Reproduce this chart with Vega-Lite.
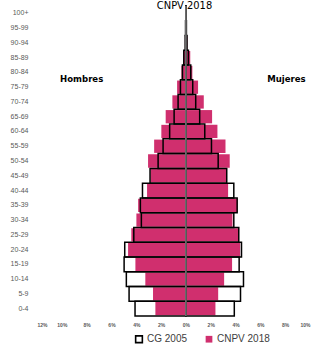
{
  "$schema": "https://vega.github.io/schema/vega-lite/v6.json",
  "width": 273,
  "height": 310,
  "autosize": "none",
  "padding": {"left": 37, "top": 6, "right": 5, "bottom": 34},
  "background": "white",
  "config": {"view": {"stroke": null}, "font": "Liberation Sans"},
  "title": {
    "text": "CNPV 2018",
    "font": "DejaVu Sans Condensed",
    "fontSize": 11,
    "fontWeight": "normal",
    "color": "#000000",
    "anchor": "middle",
    "dx": 11,
    "offset": -6
  },
  "datasets": {
    "pop": [
      {"age": "100+", "year": "CG 2005", "sex": "Hombres", "value": -0.01},
      {"age": "100+", "year": "CG 2005", "sex": "Mujeres", "value": 0.02},
      {"age": "100+", "year": "CNPV 2018", "sex": "Hombres", "value": -0.01},
      {"age": "100+", "year": "CNPV 2018", "sex": "Mujeres", "value": 0.02},
      {"age": "95-99", "year": "CG 2005", "sex": "Hombres", "value": -0.03},
      {"age": "95-99", "year": "CG 2005", "sex": "Mujeres", "value": 0.04},
      {"age": "95-99", "year": "CNPV 2018", "sex": "Hombres", "value": -0.03},
      {"age": "95-99", "year": "CNPV 2018", "sex": "Mujeres", "value": 0.05},
      {"age": "90-94", "year": "CG 2005", "sex": "Hombres", "value": -0.06},
      {"age": "90-94", "year": "CG 2005", "sex": "Mujeres", "value": 0.09},
      {"age": "90-94", "year": "CNPV 2018", "sex": "Hombres", "value": -0.08},
      {"age": "90-94", "year": "CNPV 2018", "sex": "Mujeres", "value": 0.12},
      {"age": "85-89", "year": "CG 2005", "sex": "Hombres", "value": -0.17},
      {"age": "85-89", "year": "CG 2005", "sex": "Mujeres", "value": 0.2},
      {"age": "85-89", "year": "CNPV 2018", "sex": "Hombres", "value": -0.2},
      {"age": "85-89", "year": "CNPV 2018", "sex": "Mujeres", "value": 0.35},
      {"age": "80-84", "year": "CG 2005", "sex": "Hombres", "value": -0.28},
      {"age": "80-84", "year": "CG 2005", "sex": "Mujeres", "value": 0.39},
      {"age": "80-84", "year": "CNPV 2018", "sex": "Hombres", "value": -0.36},
      {"age": "80-84", "year": "CNPV 2018", "sex": "Mujeres", "value": 0.52},
      {"age": "75-79", "year": "CG 2005", "sex": "Hombres", "value": -0.44},
      {"age": "75-79", "year": "CG 2005", "sex": "Mujeres", "value": 0.55},
      {"age": "75-79", "year": "CNPV 2018", "sex": "Hombres", "value": -0.71},
      {"age": "75-79", "year": "CNPV 2018", "sex": "Mujeres", "value": 0.98},
      {"age": "70-74", "year": "CG 2005", "sex": "Hombres", "value": -0.63},
      {"age": "70-74", "year": "CG 2005", "sex": "Mujeres", "value": 0.79},
      {"age": "70-74", "year": "CNPV 2018", "sex": "Hombres", "value": -1.09},
      {"age": "70-74", "year": "CNPV 2018", "sex": "Mujeres", "value": 1.44},
      {"age": "65-69", "year": "CG 2005", "sex": "Hombres", "value": -0.95},
      {"age": "65-69", "year": "CG 2005", "sex": "Mujeres", "value": 1.11},
      {"age": "65-69", "year": "CNPV 2018", "sex": "Hombres", "value": -1.63},
      {"age": "65-69", "year": "CNPV 2018", "sex": "Mujeres", "value": 2.11},
      {"age": "60-64", "year": "CG 2005", "sex": "Hombres", "value": -1.31},
      {"age": "60-64", "year": "CG 2005", "sex": "Mujeres", "value": 1.52},
      {"age": "60-64", "year": "CNPV 2018", "sex": "Hombres", "value": -1.98},
      {"age": "60-64", "year": "CNPV 2018", "sex": "Mujeres", "value": 2.54},
      {"age": "55-59", "year": "CG 2005", "sex": "Hombres", "value": -1.84},
      {"age": "55-59", "year": "CG 2005", "sex": "Mujeres", "value": 2.06},
      {"age": "55-59", "year": "CNPV 2018", "sex": "Hombres", "value": -2.56},
      {"age": "55-59", "year": "CNPV 2018", "sex": "Mujeres", "value": 3.19},
      {"age": "50-54", "year": "CG 2005", "sex": "Hombres", "value": -2.24},
      {"age": "50-54", "year": "CG 2005", "sex": "Mujeres", "value": 2.6},
      {"age": "50-54", "year": "CNPV 2018", "sex": "Hombres", "value": -3.05},
      {"age": "50-54", "year": "CNPV 2018", "sex": "Mujeres", "value": 3.53},
      {"age": "45-49", "year": "CG 2005", "sex": "Hombres", "value": -2.89},
      {"age": "45-49", "year": "CG 2005", "sex": "Mujeres", "value": 3.29},
      {"age": "45-49", "year": "CNPV 2018", "sex": "Hombres", "value": -2.85},
      {"age": "45-49", "year": "CNPV 2018", "sex": "Mujeres", "value": 3.25},
      {"age": "40-44", "year": "CG 2005", "sex": "Hombres", "value": -3.5},
      {"age": "40-44", "year": "CG 2005", "sex": "Mujeres", "value": 3.86},
      {"age": "40-44", "year": "CNPV 2018", "sex": "Hombres", "value": -3.13},
      {"age": "40-44", "year": "CNPV 2018", "sex": "Mujeres", "value": 3.4},
      {"age": "35-39", "year": "CG 2005", "sex": "Hombres", "value": -3.67},
      {"age": "35-39", "year": "CG 2005", "sex": "Mujeres", "value": 4.13},
      {"age": "35-39", "year": "CNPV 2018", "sex": "Hombres", "value": -3.85},
      {"age": "35-39", "year": "CNPV 2018", "sex": "Mujeres", "value": 4.15},
      {"age": "30-34", "year": "CG 2005", "sex": "Hombres", "value": -3.59},
      {"age": "30-34", "year": "CG 2005", "sex": "Mujeres", "value": 3.86},
      {"age": "30-34", "year": "CNPV 2018", "sex": "Hombres", "value": -3.99},
      {"age": "30-34", "year": "CNPV 2018", "sex": "Mujeres", "value": 3.75},
      {"age": "25-29", "year": "CG 2005", "sex": "Hombres", "value": -4.2},
      {"age": "25-29", "year": "CG 2005", "sex": "Mujeres", "value": 4.26},
      {"age": "25-29", "year": "CNPV 2018", "sex": "Hombres", "value": -4.4},
      {"age": "25-29", "year": "CNPV 2018", "sex": "Mujeres", "value": 4.26},
      {"age": "20-24", "year": "CG 2005", "sex": "Hombres", "value": -4.93},
      {"age": "20-24", "year": "CG 2005", "sex": "Mujeres", "value": 4.48},
      {"age": "20-24", "year": "CNPV 2018", "sex": "Hombres", "value": -4.66},
      {"age": "20-24", "year": "CNPV 2018", "sex": "Mujeres", "value": 4.37},
      {"age": "15-19", "year": "CG 2005", "sex": "Hombres", "value": -4.98},
      {"age": "15-19", "year": "CG 2005", "sex": "Mujeres", "value": 4.29},
      {"age": "15-19", "year": "CNPV 2018", "sex": "Hombres", "value": -4.07},
      {"age": "15-19", "year": "CNPV 2018", "sex": "Mujeres", "value": 3.72},
      {"age": "10-14", "year": "CG 2005", "sex": "Hombres", "value": -4.8},
      {"age": "10-14", "year": "CG 2005", "sex": "Mujeres", "value": 4.64},
      {"age": "10-14", "year": "CNPV 2018", "sex": "Hombres", "value": -3.27},
      {"age": "10-14", "year": "CNPV 2018", "sex": "Mujeres", "value": 3.08},
      {"age": "5-9", "year": "CG 2005", "sex": "Hombres", "value": -4.58},
      {"age": "5-9", "year": "CG 2005", "sex": "Mujeres", "value": 4.4},
      {"age": "5-9", "year": "CNPV 2018", "sex": "Hombres", "value": -2.65},
      {"age": "5-9", "year": "CNPV 2018", "sex": "Mujeres", "value": 2.6},
      {"age": "0-4", "year": "CG 2005", "sex": "Hombres", "value": -4.1},
      {"age": "0-4", "year": "CG 2005", "sex": "Mujeres", "value": 3.9},
      {"age": "0-4", "year": "CNPV 2018", "sex": "Hombres", "value": -2.46},
      {"age": "0-4", "year": "CNPV 2018", "sex": "Mujeres", "value": 2.38}
    ],
    "labels": [
      {"sex": "Hombres", "age": "80-84", "value": -8.4},
      {"sex": "Mujeres", "age": "80-84", "value": 8.1}
    ]
  },
  "encoding": {
    "x": {
      "field": "value",
      "type": "quantitative",
      "scale": {"domain": [-12, 10], "nice": false, "zero": false},
      "axis": {"title": null, "values": [-12, -10, -8, -6, -4, -2, 0, 2, 4, 6, 8, 10], "labelExpr": "abs(datum.value) + '%'", "labelOverlap": false, "labelBound": false, "grid": false, "domain": false, "ticks": false, "labelFontSize": 5, "labelFontWeight": "bold", "labelColor": "#595959", "labelPadding": 6}
    },
    "y": {
      "field": "age",
      "type": "nominal",
      "sort": ["100+", "95-99", "90-94", "85-89", "80-84", "75-79", "70-74", "65-69", "60-64", "55-59", "50-54", "45-49", "40-44", "35-39", "30-34", "25-29", "20-24", "15-19", "10-14", "5-9", "0-4"],
      "scale": {"paddingInner": 0, "paddingOuter": 0},
      "axis": {"title": null, "domain": false, "ticks": false, "labelPadding": 9, "labelFontSize": 7, "labelColor": "#595959", "labelFont": "Liberation Sans"}
    }
  },
  "layer": [
    {
      "data": {"name": "pop"},
      "transform": [{"filter": "datum.year == 'CG 2005'"}],
      "mark": {"type": "bar", "height": {"band": 1}},
      "encoding": {
        "fill": {
          "field": "year",
          "type": "nominal",
          "scale": {"domain": ["CG 2005", "CNPV 2018"], "range": ["#ffffff", "#D02F6E"]},
          "legend": {"title": null, "orient": "none", "direction": "horizontal", "legendX": 97, "legendY": 328, "symbolType": "square", "symbolSize": 45, "symbolStrokeWidth": 1.6, "labelFontSize": 10, "labelColor": "#404040", "columnPadding": 14, "labelOffset": 3}
        }
      }
    },
    {
      "data": {"name": "pop"},
      "transform": [{"filter": "datum.year == 'CNPV 2018'"}],
      "mark": {"type": "bar", "height": {"band": 0.9}},
      "encoding": {
        "fill": {"field": "year", "type": "nominal"}
      }
    },
    {
      "data": {"name": "pop"},
      "transform": [{"filter": "datum.year == 'CG 2005'"}],
      "mark": {"type": "bar", "height": {"band": 1}, "fill": "transparent", "strokeWidth": 1.5},
      "encoding": {
        "stroke": {
          "field": "year",
          "type": "nominal",
          "scale": {"domain": ["CG 2005", "CNPV 2018"], "range": ["#000000", "transparent"]},
          "legend": {"title": null, "orient": "none", "direction": "horizontal", "legendX": 97, "legendY": 328, "symbolType": "square", "symbolSize": 45, "symbolStrokeWidth": 1.6, "labelFontSize": 10, "labelColor": "#404040", "columnPadding": 14, "labelOffset": 3}
        }
      }
    },
    {
      "data": {"values": [{"value": 0}]},
      "mark": {"type": "rule", "color": "#7f7f7f", "strokeWidth": 1.5},
      "encoding": {"y": null}
    },
    {
      "data": {"name": "labels"},
      "mark": {"type": "text", "font": "DejaVu Sans Condensed", "fontSize": 9.5, "fontWeight": "bold", "color": "#000000", "baseline": "middle", "dy": 7},
      "encoding": {
        "text": {"field": "sex", "type": "nominal"}
      }
    }
  ]
}
